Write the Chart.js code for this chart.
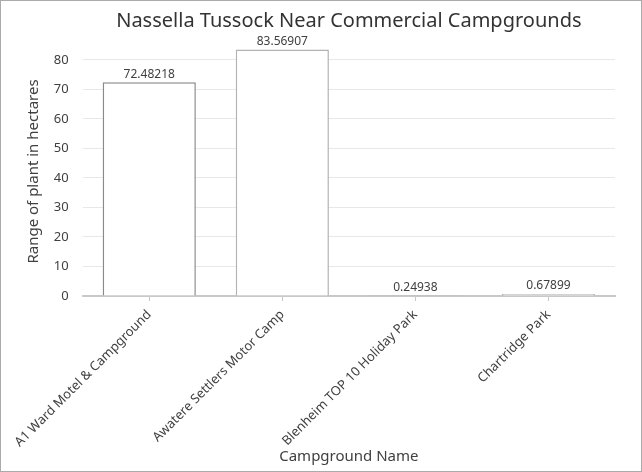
<!DOCTYPE html>
<html>
<head>
<meta charset="utf-8">
<script src="https://cdn.jsdelivr.net/npm/chart.js@4/dist/chart.umd.min.js"></script>
<style>
  html, body { margin: 0; padding: 0; background: #fff; }
  #wrap { width: 640px; height: 470px; border: 1px solid #ababab; position: relative; }
</style>
</head>
<body>
<div id="wrap"><canvas id="myChart"></canvas></div>
<script>
var campgrounds = ["A1 Ward Motel & Campground", "Awatere Settlers Motor Camp", "Blenheim TOP 10 Holiday Park", "Chartridge Park"];
var hectares = [72.48218, 83.56907, 0.24938, 0.67899];
var valueLabels = ["72.48218", "83.56907", "0.24938", "0.67899"];
var yTicks = [0, 10, 20, 30, 40, 50, 60, 70, 80];

var fontName = "'Segoe UI', 'Noto Sans', sans-serif";

// writes the value above each bar
var barValues = {
  id: 'barValues',
  afterDatasetsDraw: function(chart) {
    var ctx = chart.ctx;
    var meta = chart.getDatasetMeta(0);
    ctx.save();
    ctx.font = "12px " + fontName;
    ctx.fillStyle = "#404040";
    ctx.textAlign = "center";
    ctx.textBaseline = "bottom";
    meta.data.forEach(function(bar, i) {
      ctx.fillText(valueLabels[i], bar.x, bar.y - 2);
    });
    ctx.restore();
  }
};

var ctx = document.getElementById("myChart");
var myChart = new Chart(ctx, {
  type: 'bar',
  data: {
    labels: campgrounds,
    datasets: [{
      data: hectares,
      backgroundColor: "#ffffff",
      borderColor: ["#8a8a8a", "#b2b2b2", "#8a8a8a", "#b2b2b2"],
      borderWidth: 1.5,
      barPercentage: 0.7,
      categoryPercentage: 1.0
    }]
  },
  options: {
    responsive: true,
    maintainAspectRatio: false,
    animation: false,
    layout: { padding: { top: 8, right: 26, left: 6, bottom: 4 } },
    plugins: {
      legend: { display: false },
      tooltip: { enabled: false },
      title: {
        display: true,
        fullSize: false,
        text: "Nassella Tussock Near Commercial Campgrounds",
        color: "#333333",
        font: { family: fontName, size: 20, weight: 'normal' },
        padding: { top: 0, bottom: 14 }
      }
    },
    scales: {
      x: {
        afterFit: function(scale) { scale.height = 171; },
        grid: { display: true, offset: false, drawOnChartArea: false, drawTicks: true, tickLength: 5, color: "#c8c8c8" },
        border: { color: "#c8c8c8", width: 2 },
        ticks: {
          color: "#404040",
          font: { family: fontName, size: 13 },
          minRotation: 45, maxRotation: 45,
          padding: 6
        },
        title: {
          display: true,
          text: "Campground Name",
          color: "#404040",
          font: { family: fontName, size: 15 },
          padding: { top: 4, bottom: 1 }
        }
      },
      y: {
        min: 0,
        max: 84.4,
        afterFit: function(scale) { scale.width = 75; },
        afterBuildTicks: function(scale) {
          scale.ticks = yTicks.map(function(v) { return { value: v }; });
        },
        grid: { color: "#e8e8e8", drawTicks: false },
        border: { display: false },
        ticks: {
          color: "#404040",
          font: { family: fontName, size: 13 },
          padding: 14
        },
        title: {
          display: true,
          text: "Range of plant in hectares",
          color: "#404040",
          font: { family: fontName, size: 15 },
          padding: { top: 17, bottom: 0 }
        }
      }
    }
  },
  plugins: [barValues]
});
</script>
</body>
</html>
